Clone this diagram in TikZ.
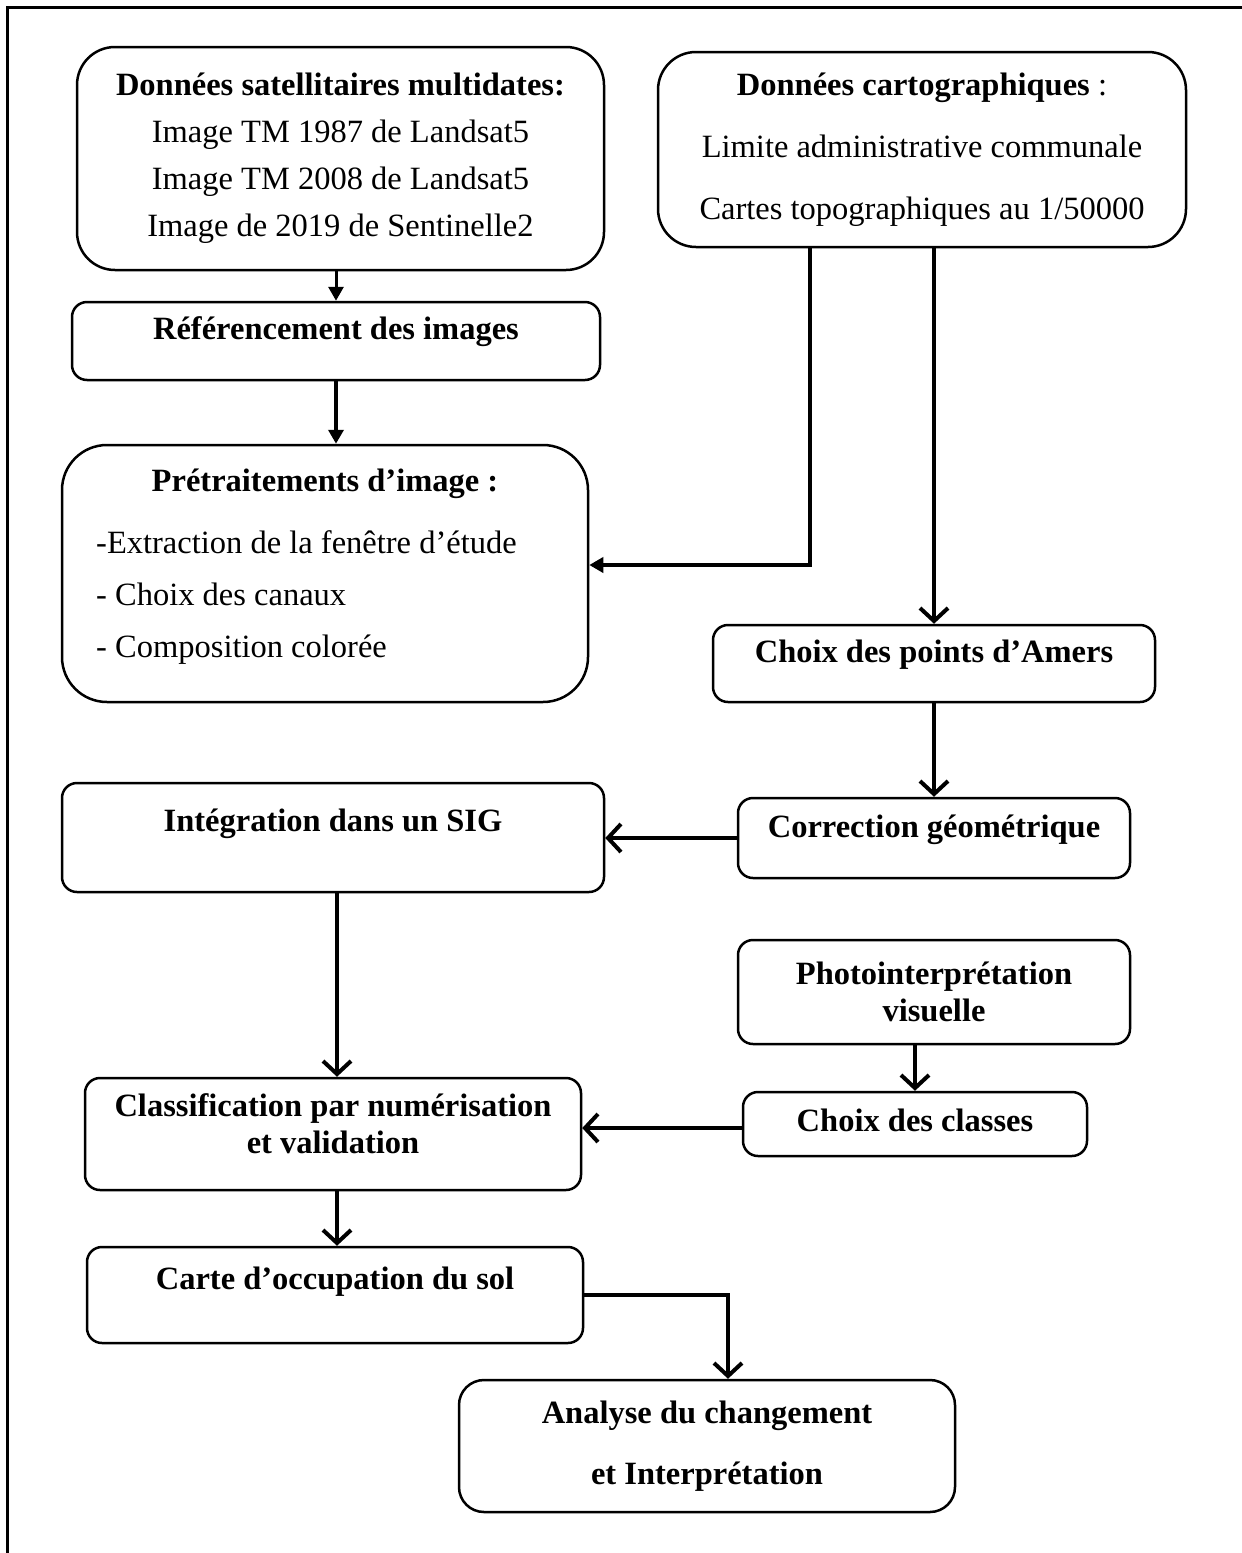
\documentclass[tikz,border=0pt]{standalone}
\usepackage{fontspec}
\setmainfont{Liberation Serif}
\usetikzlibrary{arrows.meta}

\tikzset{
  bloc/.style={draw, line width=2.5pt, rounded corners=15pt, align=center, inner sep=0pt},
  grand/.style={bloc, rounded corners=38pt},
  fleche/.style={line width=4pt, -{Straight Barb[length=13pt,width=28pt]}},
  pointe/.style={line width=3.5pt, -{Triangle[length=14pt,width=15pt]}},
}
\newcommand{\monte}[2]{\raisebox{#1}[\height][\depth]{#2}}

\begin{document}
\begin{tikzpicture}[x=1pt, y=-1pt, font=\fontsize{32.5}{37}\selectfont]
    \useasboundingbox (0,0) rectangle (1242,1553);
    % cadre
    \draw[line width=3pt] (7,1553) -- (7,7) -- (1242,7);

    % donnees d'entree
    \node[grand, minimum width=527, minimum height=223] (satellite) at (340.5,158.5)
        {\textbf{Données satellitaires multidates:}\\[10pt]
         Image TM 1987 de Landsat5\\[10pt]
         Image TM 2008 de Landsat5\\[10pt]
         Image de 2019 de Sentinelle2};
    \node[grand, minimum width=528, minimum height=195] (carto) at (922,149.5)
        {\textbf{Données cartographiques} :\\[25pt]
         Limite administrative communale\\[25pt]
         Cartes topographiques au 1/50000};

    % chaine de traitement
    \node[bloc, minimum width=528, minimum height=78] (referen) at (336,341)
        {\monte{9pt}{\textbf{Référencement des images}}};
    \node[grand, rounded corners=45pt, minimum width=526, minimum height=257] (pretrait) at (325,573.5) {};
    \node (pretraitTitre) at (325,484) {\textbf{Prétraitements d’image :}};
    \node[anchor=west, align=left, inner sep=0pt] (pretraitListe) at (96,598)
        {-Extraction de la fenêtre d’étude\\[15pt]
         - Choix des canaux\\[15pt]
         - Composition colorée};
    \node[bloc, minimum width=442, minimum height=77] (amers) at (934,663.5)
        {\monte{9pt}{\textbf{Choix des points d’Amers}}};
    \node[bloc, minimum width=542, minimum height=109] (sig) at (333,837.5)
        {\monte{14pt}{\textbf{Intégration dans un SIG}}};
    \node[bloc, minimum width=392, minimum height=80] (correction) at (934,838)
        {\monte{8pt}{\textbf{Correction géométrique}}};
    \node[bloc, minimum width=392, minimum height=104] (photo) at (934,992)
        {\textbf{Photointerprétation}\\\textbf{visuelle}};
    \node[bloc, minimum width=496, minimum height=112] (classif) at (333,1134)
        {\monte{6pt}{\begin{tabular}{@{}c@{}}\textbf{Classification par numérisation}\\\textbf{et validation}\end{tabular}}};
    \node[bloc, minimum width=344, minimum height=64] (classes) at (915,1124)
        {\monte{4pt}{\textbf{Choix des classes}}};
    \node[bloc, minimum width=496, minimum height=96] (carte) at (335,1295)
        {\monte{13pt}{\textbf{Carte d’occupation du sol}}};
    \node[bloc, rounded corners=25pt, minimum width=496, minimum height=132] (analyse) at (707,1446)
        {\textbf{Analyse du changement}\\[24pt]\textbf{et Interprétation}};

    % liaisons
    \draw[pointe, line width=3pt] (satellite.south -| referen.north) -- (referen.north);
    \draw[pointe] (referen.south) -- (referen.south |- pretrait.north);
    \draw[pointe] ([xshift=-112pt]carto.south) |- ([yshift=8.5pt]pretrait.east);
    \draw[fleche] (carto.south -| amers.north) -- (amers.north);
    \draw[fleche] (amers.south) -- (correction.north);
    \draw[fleche] (correction.west) -- (correction.west -| sig.east);
    \draw[fleche] ([xshift=4pt]sig.south) -- ([xshift=4pt]classif.north);
    \draw[fleche] (photo.south -| classes.north) -- (classes.north);
    \draw[fleche] ([yshift=-4pt]classes.west) -- ([yshift=-4pt]classes.west -| classif.east);
    \draw[fleche] ([xshift=4pt]classif.south) -- ([xshift=4pt]classif.south |- carte.north);
    \draw[fleche] (carte.east) -| ([xshift=21pt]analyse.north);
\end{tikzpicture}
\end{document}
